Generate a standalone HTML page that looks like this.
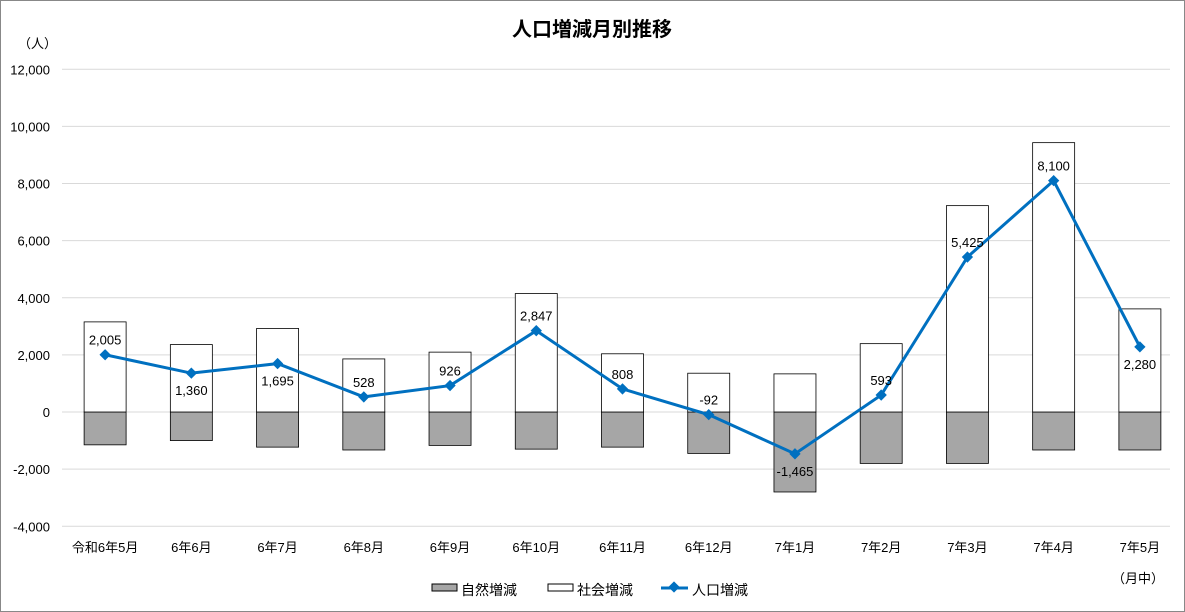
<!DOCTYPE html>
<html><head><meta charset="utf-8"><style>
html,body{margin:0;padding:0;background:#fff}
svg{display:block;font-family:"Liberation Sans","Noto Sans CJK JP",sans-serif}
</style></head><body>
<svg id="c" width="1185" height="612" xmlns="http://www.w3.org/2000/svg">
<rect x="0.5" y="0.5" width="1184" height="611" fill="#fff" stroke="#888"/>
<text x="592" y="36" text-anchor="middle" font-size="20" font-weight="bold">人口増減月別推移</text>
<text x="18" y="48" font-size="13">（人）</text>
<text x="1112" y="583" font-size="13">（月中）</text>
<g id="grid"></g><g id="bars"></g><g id="line"></g><g id="labels"></g>
<g>
<rect x="432" y="584" width="25" height="7" fill="#a6a6a6" stroke="#000"/>
<text x="461" y="595" font-size="14">自然増減</text>
<rect x="548" y="584" width="25" height="7" fill="#fff" stroke="#000"/>
<text x="577" y="595" font-size="14">社会増減</text>
<line x1="661" y1="588" x2="688" y2="588" stroke="#0070c0" stroke-width="3"/>
<rect x="670" y="583" width="8" height="8" fill="#0070c0" transform="rotate(45 674 587)"/>
<text x="692" y="595" font-size="14">人口増減</text>
</g>
</svg>
<script>
const categories=["令和6年5月","6年6月","6年7月","6年8月","6年9月","6年10月","6年11月","6年12月","7年1月","7年2月","7年3月","7年4月","7年5月"];
const natural=[-1150,-1000,-1230,-1330,-1170,-1300,-1230,-1450,-2800,-1800,-1800,-1330,-1330];
const social=[3155,2360,2925,1858,2096,4147,2038,1358,1335,2393,7225,9430,3610];
const total=[2005,1360,1695,528,926,2847,808,-92,-1465,593,5425,8100,2280];
const labelBelow=[false,true,true,false,false,false,false,false,true,false,false,false,true];
const yTicks=[-4000,-2000,0,2000,4000,6000,8000,10000,12000];
const NS="http://www.w3.org/2000/svg";
const L=62,R=1183,Y0=412,K=457/16000;
const y=v=>Y0-v*K;
const step=(R-L)/categories.length;
const x=i=>L+step*(i+0.5);
function mk(p,t,a){const e=document.createElementNS(NS,t);for(const k in a)e.setAttribute(k,a[k]);document.getElementById(p).appendChild(e);return e;}
const fmt=v=>v.toLocaleString('en-US');
yTicks.forEach(v=>{
 const g=mk('grid','line',{x1:L,x2:1170,y1:y(v),y2:y(v),stroke:'#d9d9d9'});
 
 
 const t=mk('grid','text',{x:50,y:y(v)+5,'text-anchor':'end','font-size':13});
 
 
 t.textContent=fmt(v);
});
categories.forEach((c,i)=>{
 const t=mk('grid','text',{x:x(i),y:552,'text-anchor':'middle','font-size':13});
 
 
 t.textContent=c;
 const b=mk('bars','rect',{x:x(i)-21,width:42,y:y(0),height:y(natural[i])-y(0),fill:'#a6a6a6',stroke:'#000','stroke-width':0.8});
 
 
 const s=mk('bars','rect',{x:x(i)-21,width:42,y:y(social[i]),height:y(0)-y(social[i]),fill:'#fff',stroke:'#000','stroke-width':0.8});
 
 
});
const pl=mk('line','polyline',{points:total.map((v,i)=>x(i)+','+y(v)).join(' '),fill:'none',stroke:'#0070c0','stroke-width':3});


total.forEach((v,i)=>{
 const m=mk('line','rect',{x:x(i)-4,y:y(v)-4,width:8,height:8,fill:'#0070c0',transform:`rotate(45 ${x(i)} ${y(v)})`});
 
 
 const t=mk('labels','text',{x:x(i),y:labelBelow[i]?y(v)+22:y(v)-10,'text-anchor':'middle','font-size':13});
 
 
 t.textContent=fmt(v);
});
</script>
</body></html>
